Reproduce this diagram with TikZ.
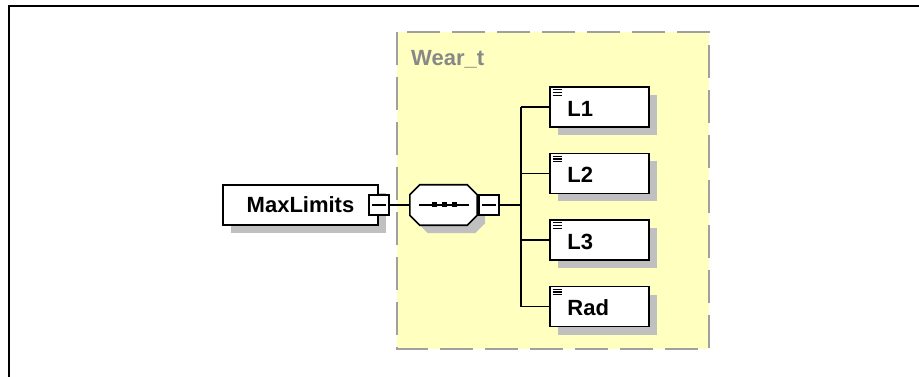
\documentclass[tikz,border=0pt]{standalone}
\usepackage{fontspec}
\setmainfont{Liberation Sans}
\usetikzlibrary{calc,shadows}
\definecolor{wearfill}{RGB}{255,255,192}
\definecolor{wearborder}{RGB}{160,160,160}
\definecolor{weartext}{RGB}{136,136,136}
\definecolor{shadowgray}{RGB}{192,192,192}
\begin{document}
\begin{tikzpicture}[x=1pt,y=-1pt,
  boxshadow/.style={drop shadow={shadow xshift=8pt, shadow yshift=-8pt, fill=shadowgray, opacity=1}},
  elembox/.style={draw=black, line width=1.6pt, fill=white, rectangle, inner sep=0pt, minimum height=40pt, boxshadow},
  minusbox/.style={draw=black, line width=1.4pt, fill=white, rectangle, inner sep=0pt, minimum width=20pt, minimum height=20pt},
  minussign/.style={draw=black, line width=1.3pt},
  conn/.style={draw=black, line width=1.3pt},
  elemfont/.style={font=\fontsize{22}{26}\selectfont\bfseries},
  elemtext/.style={elemfont, text=black, inner sep=0pt},
  seqshape/.style={draw=black, line width=1.6pt, fill=white, boxshadow},
  iconline/.style={draw=black, line width=1.2pt},
  groupbox/.style={fill=wearfill, draw=wearborder, line width=2pt, dash pattern=on 33pt off 12pt},
  frameline/.style={draw=black, line width=2.2pt}
]
\useasboundingbox (0,0) rectangle (919,377);
% outer frame (top and left)
\draw[frameline] (9,377) -- (9,6) -- (919,6);
% complex type group
\draw[groupbox] (397,32) rectangle (709,349);
\node[elemfont, text=weartext, inner sep=0pt, anchor=base west] (weartitle) at (411,66) {Wear\_t};
% MaxLimits element
\node[elembox, elemfont, minimum width=155pt] (maxlim) at (300.5,205) {MaxLimits};
\node[minusbox] (maxminus) at (maxlim.east) {};
\draw[minussign] ($(maxminus.west)+(4,0)$) -- ($(maxminus.east)+(-4,0)$);
% sequence compositor
\node[inner sep=0pt, minimum width=67pt, minimum height=40pt] (seq) at (443.5,205) {};
\path[seqshape] ($(seq.north west)+(10,0)$) -- ($(seq.north east)+(-10,0)$) -- ($(seq.north east)+(0,10)$) -- ($(seq.south east)+(0,-10)$) -- ($(seq.south east)+(-10,0)$) -- ($(seq.south west)+(10,0)$) -- ($(seq.south west)+(0,-10)$) -- ($(seq.north west)+(0,10)$) -- cycle;
\draw[conn] ($(seq.west)+(9,0)$) -- ($(seq.east)+(-8,0)$);
\foreach \dx in {-10,0,10} {
  \fill[black] ($(seq.center)+(\dx+1-2.5,-2.5)$) rectangle ++(5,5);
}
\node[minusbox, anchor=west] (seqminus) at ($(seq.east)+(1,0)$) {};
\draw[minussign] ($(seqminus.west)+(4,0)$) -- ($(seqminus.east)+(-4,0)$);
\draw[conn] (maxminus.east) -- (seq.west);
% children
\coordinate (bus) at (521,205);
\node[elembox, minimum width=99pt] (c1) at (599.5,107) {};
\node[elembox, minimum width=99pt] (c2) at (599.5,173.5) {};
\node[elembox, minimum width=99pt] (c3) at (599.5,240) {};
\node[elembox, minimum width=99pt] (c4) at (599.5,306.5) {};
\node[elemtext, anchor=west] (t1) at ($(c1.west)+(18,1.5)$) {L1};
\node[elemtext, anchor=west] (t2) at ($(c2.west)+(18,1.5)$) {L2};
\node[elemtext, anchor=west] (t3) at ($(c3.west)+(18,1.5)$) {L3};
\node[elemtext, anchor=west] (t4) at ($(c4.west)+(18,1.5)$) {Rad};
\foreach \c in {c1,c2,c3,c4} {
  \foreach \dy in {0,2.8,5.6} {
    \draw[iconline] ($(\c.north west)+(3.5,3.5+\dy)$) -- ++(9.5,0);
  }
  \draw[conn] (\c.west -| bus) -- (\c.west);
}
\draw[conn] (seqminus.east) -- (bus);
\draw[conn] (c1.west -| bus) -- (c4.west -| bus);
\end{tikzpicture}
\end{document}
